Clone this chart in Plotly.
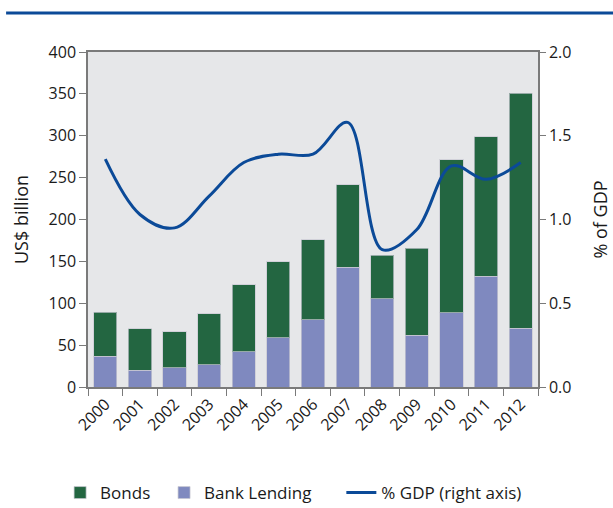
import plotly.graph_objects as go

years = ["2000", "2001", "2002", "2003", "2004", "2005", "2006",
         "2007", "2008", "2009", "2010", "2011", "2012"]
bank_lending = [36.6, 19.9, 23.1, 26.3, 41.8, 58.9, 80.4, 142.9, 105.5, 61.7, 88.4, 132.1, 70.0]
total = [89.2, 69.3, 66.1, 87.2, 121.8, 149.7, 175.9, 241.6, 157.2, 165.6, 271.4, 298.9, 351.0]
bonds = [round(t - b, 1) for t, b in zip(total, bank_lending)]
gdp_pct = [1.36, 1.03, 0.95, 1.14, 1.34, 1.39, 1.39, 1.58, 0.82, 0.94, 1.32, 1.24, 1.34]

GREEN = "#236641"
LEND = "#7f89bf"
BLUE = "#0b4a98"
AX = "#7a7a7a"
FONT = "Open Sans"

fig = go.Figure()
fig.add_trace(go.Bar(x=years, y=bank_lending, name="Bank Lending", marker_color=LEND,
                     marker_line=dict(color="rgba(200,200,210,0.7)", width=1), legend="legend2"))
fig.add_trace(go.Bar(x=years, y=bonds, name="Bonds", marker_color=GREEN,
                     marker_line=dict(color="rgba(200,200,210,0.7)", width=1), legend="legend"))
fig.add_trace(go.Scatter(x=years, y=gdp_pct, name="% GDP (right axis)", yaxis="y2",
                         mode="lines", line=dict(color=BLUE, width=3, shape="spline", smoothing=1.0),
                         legend="legend3"))

leg = dict(orientation="h", yref="container", y=0.0295, xanchor="left", yanchor="middle",
           font=dict(size=17), itemwidth=30, bgcolor="rgba(0,0,0,0)")

fig.update_layout(
    width=613, height=508,
    margin=dict(l=88, r=75, t=52, b=121),
    barmode="stack", bargap=0.33,
    plot_bgcolor="#e6e7e9", paper_bgcolor="white",
    font=dict(family=FONT, size=16, color="#1a1a1a"),
    showlegend=True,
    legend=dict(leg, x=-0.062),
    legend2=dict(leg, x=0.169),
    legend3=dict(leg, x=0.563),
    xaxis=dict(type="category", tickangle=-45, showline=True, linecolor=AX, linewidth=1.5,
               mirror=True, ticks="outside", tickson="boundaries", ticklen=7, tickcolor=AX,
               showgrid=False, tickfont=dict(size=16), automargin=False),
    yaxis=dict(range=[0, 400], dtick=50, showline=True, linecolor=AX, linewidth=1.5,
               ticks="outside", ticklen=7, tickcolor=AX, showgrid=False, zeroline=False,
               title=dict(text="US$ billion", font=dict(size=18), standoff=15),
               tickfont=dict(size=16), automargin=False),
    yaxis2=dict(range=[0, 2.0], dtick=0.5, tickformat=".1f", overlaying="y", side="right",
                showline=True, linecolor=AX, linewidth=1.5, ticks="outside", ticklen=6,
                tickcolor=AX, showgrid=False, zeroline=False,
                title=dict(text="% of GDP", font=dict(size=18), standoff=24),
                tickfont=dict(size=16), automargin=False),
    shapes=[dict(type="line", xref="paper", yref="paper", x0=-0.182, x1=1.17,
                 y0=1.1164, y1=1.1164, line=dict(color=BLUE, width=3))],
)

fig.write_html("out.html", config={"displayModeBar": False},
               post_script="document.body.style.margin='0px';")
